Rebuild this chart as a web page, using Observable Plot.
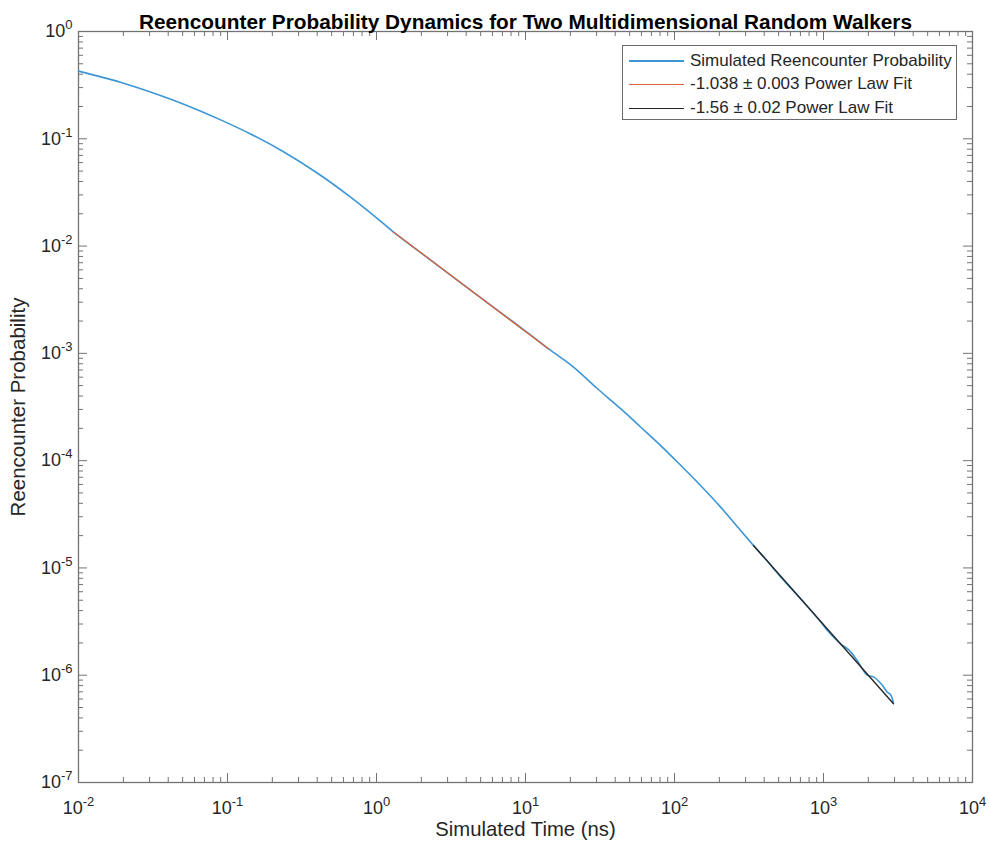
<!DOCTYPE html>
<html>
<head>
<meta charset="utf-8">
<script src="https://cdn.jsdelivr.net/npm/d3@7"></script>
<script src="https://cdn.jsdelivr.net/npm/@observablehq/plot@0.6"></script>
<style>
  html, body { margin: 0; padding: 0; background: #fff; }
  #wrap { position: relative; width: 989px; height: 846px; font-family: "Liberation Sans", Arial, Helvetica, sans-serif; }
  #legend { position: absolute; left: 622px; top: 45px; width: 333px; height: 73px; border: 1px solid #6a6a6a; background: #fff; box-sizing: content-box; }
  .row { position: absolute; left: 0; height: 20px; display: flex; align-items: center; font-size: 17px; color: #262626; white-space: nowrap; }
  .sw { display: inline-block; width: 55px; margin-left: 6px; margin-right: 6px; }
</style>
</head>
<body>
<div id="wrap"></div>
<script>
// ---- Data ----
const titleText = "Reencounter Probability Dynamics for Two Multidimensional Random Walkers";
const xLabel = "Simulated Time (ns)";
const yLabel = "Reencounter Probability";

// Simulated reencounter probability curve
const timeNs = [
  0.01, 0.0191, 0.0304, 0.0509, 0.0853, 0.1426, 0.239, 0.400, 0.670, 1.12,
  1.30, 2.0, 3.5, 7.0, 10.0, 14.3, 21.0, 30.4, 43.5, 59.2, 80.5, 109.6, 149, 204,
  277, 339, 419, 514, 665, 778, 979, 1059, 1300, 1479, 1683, 1963, 2178, 2477,
  2673, 2818, 2938
];
const reencounterProb = [
  0.427, 0.337, 0.273, 0.210, 0.155, 0.111, 0.0753, 0.0480, 0.0286, 0.0161,
  0.0135, 0.00861, 0.00479, 0.00233, 0.00161, 0.00110, 0.000745, 0.000468, 0.000305,
  0.000206, 0.000139, 9.1e-5, 5.9e-5, 3.69e-5, 2.24e-5, 1.62e-5, 1.16e-5, 8.3e-6,
  5.6e-6, 4.4e-6, 3.02e-6, 2.62e-6, 1.96e-6, 1.72e-6, 1.37e-6, 1.0e-6, 9.6e-7,
  8.1e-7, 6.97e-7, 6.6e-7, 5.6e-7
];

// Power-law fit 1 (slope -1.038) endpoints
const fit1Time = [1.30, 14.3];
const fit1Prob = [0.0135, 0.00110];
// Power-law fit 2 (slope -1.56) endpoints
const fit2Time = [339, 2950];
const fit2Prob = [1.62e-5, 5.42e-7];

const seriesNames = [
  "Simulated Reencounter Probability",
  "-1.038 \u00B1 0.003 Power Law Fit",
  "-1.56 \u00B1 0.02 Power Law Fit"
];
const seriesColors = ["#3d96d6", "#d9643a", "#262626"];

// Axis ticks
const xTicks = [1e-2, 1e-1, 1e0, 1e1, 1e2, 1e3, 1e4];
const yTicks = [1e-7, 1e-6, 1e-5, 1e-4, 1e-3, 1e-2, 1e-1, 1e0];
const minorMult = [2, 3, 4, 5, 6, 7, 8, 9];
const xMinor = xTicks.slice(0, -1).flatMap(d => minorMult.map(m => d * m));
const yMinor = yTicks.slice(0, -1).flatMap(d => minorMult.map(m => d * m));

// ---- Build tables ----
const curve = timeNs.map((t, i) => ({t, p: reencounterProb[i]}));
const fit1 = fit1Time.map((t, i) => ({t, p: fit1Prob[i]}));
const fit2 = fit2Time.map((t, i) => ({t, p: fit2Prob[i]}));

const W = 989, H = 846, mL = 78, mR = 17, mT = 31, mB = 64;
const plotW = W - mL - mR, plotH = H - mT - mB;
const axisColor = "#737373";
const textColor = "#262626";
const expFmt = d => "10^" + Math.round(Math.log10(d));

const chart = Plot.plot({
  width: W, height: H,
  marginLeft: mL, marginRight: mR, marginTop: mT, marginBottom: mB,
  style: {fontFamily: "'Liberation Sans', Arial, Helvetica, sans-serif", background: "white", color: textColor},
  x: {type: "log", domain: [1e-2, 1e4]},
  y: {type: "log", domain: [1e-7, 1]},
  marks: [
    // tick labels
    Plot.axisX({ticks: xTicks, tickSize: 0, tickPadding: 19, tickFormat: expFmt, fontSize: 18, fill: textColor, label: null}),
    Plot.axisY({ticks: yTicks, tickSize: 0, tickPadding: 6, tickFormat: expFmt, fontSize: 18, fill: textColor, label: null}),
    // inward ticks on all four sides
    Plot.ruleX(xTicks, {x: d => d, insetTop: plotH - 9, stroke: axisColor}),
    Plot.ruleX(xTicks, {x: d => d, insetBottom: plotH - 9, stroke: axisColor}),
    Plot.ruleX(xMinor, {x: d => d, insetTop: plotH - 5, stroke: axisColor}),
    Plot.ruleX(xMinor, {x: d => d, insetBottom: plotH - 5, stroke: axisColor}),
    Plot.ruleY(yTicks, {y: d => d, insetRight: plotW - 9, stroke: axisColor}),
    Plot.ruleY(yTicks, {y: d => d, insetLeft: plotW - 9, stroke: axisColor}),
    Plot.ruleY(yMinor, {y: d => d, insetRight: plotW - 5, stroke: axisColor}),
    Plot.ruleY(yMinor, {y: d => d, insetLeft: plotW - 5, stroke: axisColor}),
    Plot.frame({stroke: axisColor, strokeWidth: 1.3}),
    // data
    Plot.line(curve, {x: "t", y: "p", stroke: seriesColors[0], strokeWidth: 1.6, curve: "catmull-rom"}),
    Plot.line(fit1, {x: "t", y: "p", stroke: seriesColors[1], strokeWidth: 1.3}),
    Plot.line(fit2, {x: "t", y: "p", stroke: seriesColors[2], strokeWidth: 1.4}),
    // title and axis labels
    Plot.text([titleText], {text: d => d, frameAnchor: "top", textAnchor: "middle", dy: -17, fontSize: 20.8, fontWeight: "bold", fill: "#000"}),
    Plot.text([xLabel], {text: d => d, frameAnchor: "bottom", textAnchor: "middle", dy: 53, fontSize: 20.3, fill: textColor}),
    Plot.text([yLabel], {text: d => d, frameAnchor: "left", textAnchor: "middle", dx: -60, rotate: -90, fontSize: 20.5, fill: textColor})
  ]
});

// superscript exponents on tick labels
const NS = "http://www.w3.org/2000/svg";
chart.querySelectorAll("text").forEach(t => {
  const m = /^10\^(-?\d+)$/.exec(t.textContent.trim());
  if (m) {
    t.textContent = "10";
    const ts = document.createElementNS(NS, "tspan");
    ts.setAttribute("dy", "-8");
    ts.setAttribute("font-size", "13");
    ts.textContent = m[1];
    t.appendChild(ts);
  }
});

const wrap = document.getElementById("wrap");
wrap.appendChild(chart);

// legend inside the axes (upper right)
const legend = document.createElement("div");
legend.id = "legend";
const rowTops = [5, 28, 52];
seriesNames.forEach((name, i) => {
  const row = document.createElement("div");
  row.className = "row";
  row.style.top = rowTops[i] + "px";
  const sw = document.createElement("span");
  sw.className = "sw";
  sw.style.borderTop = (i === 0 ? 2 : 1.5) + "px solid " + seriesColors[i];
  const label = document.createElement("span");
  label.textContent = name;
  row.appendChild(sw);
  row.appendChild(label);
  legend.appendChild(row);
});
wrap.appendChild(legend);
</script>
</body>
</html>
